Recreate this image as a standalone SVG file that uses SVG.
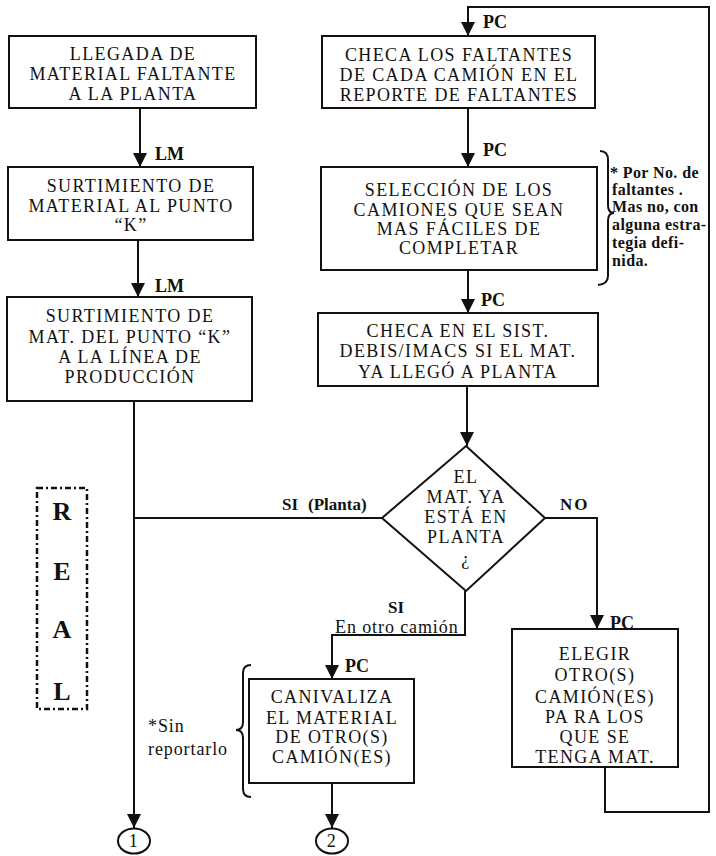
<svg xmlns="http://www.w3.org/2000/svg" width="716" height="856" viewBox="0 0 716 856">
  <style>
    .box { fill: #fff; stroke: #111; stroke-width: 2; }
    .line { fill: none; stroke: #111; stroke-width: 2; }
    .t { font-family: "Liberation Serif", "Times New Roman", serif; font-size: 18px; letter-spacing: 1.4px; fill: #111; text-anchor: middle; }
    .lbl { font-family: "Liberation Serif", "Times New Roman", serif; font-size: 18px; font-weight: bold; fill: #111; }
    .note { font-family: "Liberation Serif", "Times New Roman", serif; font-size: 17px; font-weight: bold; fill: #111; }
    .side { font-family: "Liberation Serif", "Times New Roman", serif; font-size: 16px; font-weight: bold; letter-spacing: 0.4px; fill: #111; }
    .plain { font-family: "Liberation Serif", "Times New Roman", serif; font-size: 18px; letter-spacing: 0.9px; fill: #111; }
    .big { font-family: "Liberation Serif", "Times New Roman", serif; font-size: 26px; font-weight: bold; fill: #111; text-anchor: middle; }
  </style>
  <defs>
    <marker id="arrow" markerUnits="userSpaceOnUse" markerWidth="14" markerHeight="14" refX="14" refY="7" orient="auto">
      <path d="M0,0 L14,7 L0,14 Z" fill="#111"/>
    </marker>
  </defs>
  <rect width="716" height="856" fill="#fff"/>

  <!-- connectors -->
  <g id="connectors">
    <path class="line" d="M140,108 V167" marker-end="url(#arrow)"/>
    <path class="line" d="M138,240 V297" marker-end="url(#arrow)"/>
    <path class="line" d="M134,401 V828" marker-end="url(#arrow)"/>
    <path class="line" d="M382,518 H134"/>
    <path class="line" d="M468,108 V167" marker-end="url(#arrow)"/>
    <path class="line" d="M468,270 V313" marker-end="url(#arrow)"/>
    <path class="line" d="M467,386 V446" marker-end="url(#arrow)"/>
    <path class="line" d="M545,518 H597 V629" marker-end="url(#arrow)"/>
    <path class="line" d="M465,591 V635 H332 V679" marker-end="url(#arrow)"/>
    <path class="line" d="M332,783 V828" marker-end="url(#arrow)"/>
    <path class="line" d="M605,767 V812 H709 V7 H468 V36" marker-end="url(#arrow)"/>

    <text class="lbl" x="155" y="160">LM</text>
    <text class="lbl" x="155" y="292">LM</text>
    <text class="lbl" x="483" y="28">PC</text>
    <text class="lbl" x="483" y="156">PC</text>
    <text class="lbl" x="481" y="306">PC</text>
    <text class="lbl" x="610" y="629">PC</text>
    <text class="lbl" x="345" y="672">PC</text>

    <text class="note" x="282" y="510">SI</text>
    <text class="note" x="308" y="510">(Planta)</text>
    <text class="note" x="560" y="510" letter-spacing="2">NO</text>
    <text class="note" x="388" y="613">SI</text>
    <text class="plain" x="335" y="633">En otro camión</text>
  </g>

  <!-- left column -->
  <g id="llegada">
    <rect class="box" x="9" y="36" width="247" height="72"/>
    <text class="t" x="133" y="60">LLEGADA DE</text>
    <text class="t" x="133" y="80">MATERIAL FALTANTE</text>
    <text class="t" x="133" y="100">A LA PLANTA</text>
  </g>
  <g id="surtimiento-k">
    <rect class="box" x="8" y="167" width="245" height="73"/>
    <text class="t" x="131" y="192">SURTIMIENTO DE</text>
    <text class="t" x="131" y="212">MATERIAL AL PUNTO</text>
    <text class="t" x="131" y="231">“K”</text>
  </g>
  <g id="surtimiento-linea">
    <rect class="box" x="7" y="297" width="245" height="104"/>
    <text class="t" x="130" y="322">SURTIMIENTO DE</text>
    <text class="t" x="130" y="343">MAT. DEL PUNTO “K”</text>
    <text class="t" x="130" y="363">A LA LÍNEA DE</text>
    <text class="t" x="130" y="383">PRODUCCIÓN</text>
  </g>

  <!-- right column -->
  <g id="checa-faltantes">
    <rect class="box" x="322" y="36" width="273" height="72"/>
    <text class="t" x="459" y="61">CHECA LOS FALTANTES</text>
    <text class="t" x="459" y="81">DE CADA CAMIÓN EN EL</text>
    <text class="t" x="459" y="101">REPORTE DE FALTANTES</text>
  </g>
  <g id="seleccion">
    <rect class="box" x="321" y="167" width="276" height="103"/>
    <text class="t" x="459" y="196">SELECCIÓN DE LOS</text>
    <text class="t" x="459" y="216">CAMIONES QUE SEAN</text>
    <text class="t" x="459" y="235">MAS FÁCILES DE</text>
    <text class="t" x="459" y="254">COMPLETAR</text>
  </g>
  <g id="nota-seleccion">
    <path class="line" stroke-width="1.8" d="M600,151 Q608,151 608,160 V205 Q608,213 614,213 Q608,213 608,221 V276 Q608,284 598,285"/>
    <text class="side" x="610" y="178">* Por No. de</text>
    <text class="side" x="612" y="195">faltantes .</text>
    <text class="side" x="612" y="212">Mas no, con</text>
    <text class="side" x="612" y="230">alguna estra-</text>
    <text class="side" x="612" y="248">tegia defi-</text>
    <text class="side" x="612" y="266">nida.</text>
  </g>
  <g id="checa-sistema">
    <rect class="box" x="318" y="313" width="280" height="73"/>
    <text class="t" x="458" y="337">CHECA EN EL SIST.</text>
    <text class="t" x="458" y="357">DEBIS/IMACS SI EL MAT.</text>
    <text class="t" x="458" y="378">YA LLEGÓ A PLANTA</text>
  </g>
  <g id="decision">
    <polygon class="box" points="466,446 545,518 466,591 382,518"/>
    <text class="t" x="466" y="483">EL</text>
    <text class="t" x="466" y="503">MAT. YA</text>
    <text class="t" x="466" y="523">ESTÁ EN</text>
    <text class="t" x="466" y="543">PLANTA</text>
    <text class="t" x="466" y="565">¿</text>
  </g>
  <g id="elegir">
    <rect class="box" x="512" y="629" width="166" height="138"/>
    <text class="t" x="595" y="660">ELEGIR</text>
    <text class="t" x="595" y="681">OTRO(S)</text>
    <text class="t" x="595" y="703">CAMIÓN(ES)</text>
    <text class="t" x="595" y="723">PA RA LOS</text>
    <text class="t" x="595" y="743">QUE SE</text>
    <text class="t" x="595" y="763">TENGA  MAT.</text>
  </g>
  <g id="canivaliza">
    <rect class="box" x="249" y="679" width="165" height="104"/>
    <text class="t" x="332" y="703">CANIVALIZA</text>
    <text class="t" x="332" y="724">EL MATERIAL</text>
    <text class="t" x="332" y="743">DE OTRO(S)</text>
    <text class="t" x="332" y="763">CAMIÓN(ES)</text>
  </g>
  <g id="nota-canivaliza">
    <path class="line" stroke-width="1.8" d="M251,665 Q243,665 243,673 V722 Q243,730 236,730 Q243,730 243,738 V789 Q243,797 251,797"/>
    <text class="plain" x="148" y="732" font-size="19">*Sin</text>
    <text class="plain" x="148" y="755" font-size="19">reportarlo</text>
  </g>

  <!-- side label -->
  <g id="real">
    <rect x="37" y="488" width="50" height="221" fill="none" stroke="#111" stroke-width="2.5" stroke-dasharray="6 3 2 3"/>
    <text class="big" x="62" y="520">R</text>
    <text class="big" x="62" y="580">E</text>
    <text class="big" x="62" y="638">A</text>
    <text class="big" x="62" y="700">L</text>
  </g>

  <!-- off-page connectors -->
  <g id="conector-1">
    <ellipse class="line" cx="134" cy="841" rx="16" ry="12.5"/>
    <text class="t" x="134" y="847" font-size="16" letter-spacing="0">1</text>
  </g>
  <g id="conector-2">
    <ellipse class="line" cx="332" cy="841" rx="16" ry="12.5"/>
    <text class="t" x="332" y="847" font-size="16" letter-spacing="0">2</text>
  </g>
</svg>
